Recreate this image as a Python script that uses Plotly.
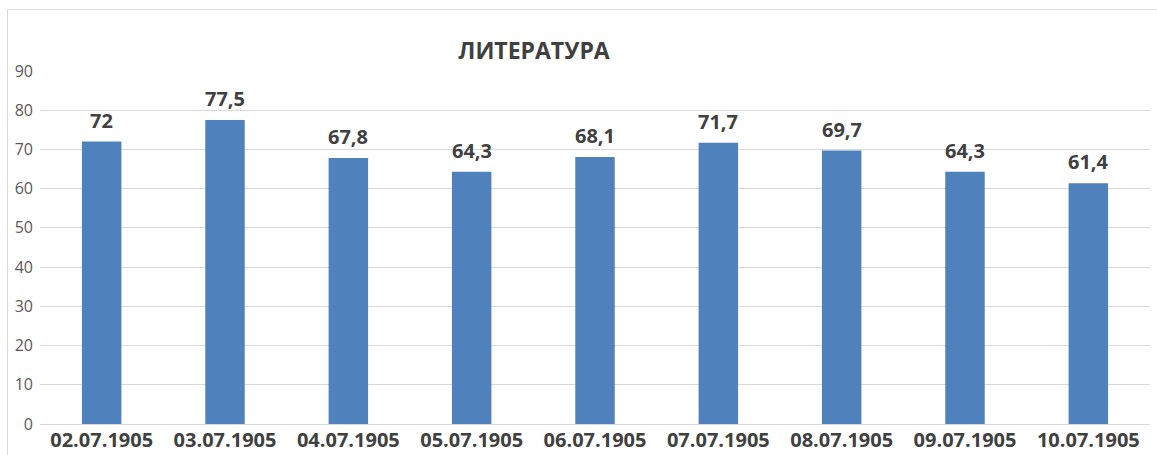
import plotly.graph_objects as go

categories = ["02.07.1905", "03.07.1905", "04.07.1905", "05.07.1905", "06.07.1905",
              "07.07.1905", "08.07.1905", "09.07.1905", "10.07.1905"]
values = [72, 77.5, 67.8, 64.3, 68.1, 71.7, 69.7, 64.3, 61.4]
labels = [str(v).replace(".", ",") for v in values]
title_text = "ЛИТЕРАТУРА"

W, H = 1157, 455
L, R, T, B = 40, 7, 71, 31
pw, ph = W - L - R, H - T - B

fig = go.Figure(go.Bar(
    x=categories, y=values, width=0.32,
    marker=dict(color="#4F81BD", line=dict(width=0)),
    hoverinfo="x+y",
))

for c, v, t in zip(categories, values, labels):
    fig.add_annotation(x=c, y=v, text="<b>" + t + "</b>", showarrow=False,
                       xanchor="center", yanchor="bottom", yshift=6,
                       font=dict(family="Open Sans", size=20, color="#404040"))

def px(x):
    return (x - L) / pw

def py(y):
    return (H - B - y) / ph

fig.update_layout(
    width=W, height=H,
    margin=dict(l=L, r=R, t=T, b=B, autoexpand=False),
    paper_bgcolor="white", plot_bgcolor="white",
    showlegend=False,
    title=dict(text="<b>" + title_text + "</b>", x=534 / W, xanchor="center",
               y=1 - 51 / H, yanchor="middle",
               font=dict(family="Open Sans", size=23, color="#404040")),
    xaxis=dict(showgrid=False, showline=False, ticks="", automargin=False,
               ticklabelstandoff=2,
               tickfont=dict(family="Open Sans", size=20, color="#404040", weight="bold")),
    yaxis=dict(range=[0, 90], dtick=10, showgrid=True, gridcolor="#D9D9D9", gridwidth=1,
               zeroline=True, zerolinecolor="#D9D9D9", zerolinewidth=1, automargin=False,
               showline=False, ticks="", ticklabelstandoff=6,
               tickfont=dict(family="Open Sans", size=16, color="#595959")),
    shapes=[dict(type="rect", xref="paper", yref="paper",
                 x0=px(7.5), x1=px(W + 5), y0=py(H + 5), y1=py(9.5),
                 line=dict(color="#D9D9D9", width=1), fillcolor="rgba(0,0,0,0)", layer="below")],
)

fig.write_html("out.html", config={"displayModeBar": False},
               post_script="document.body.style.margin='0';document.body.style.overflow='hidden';")
